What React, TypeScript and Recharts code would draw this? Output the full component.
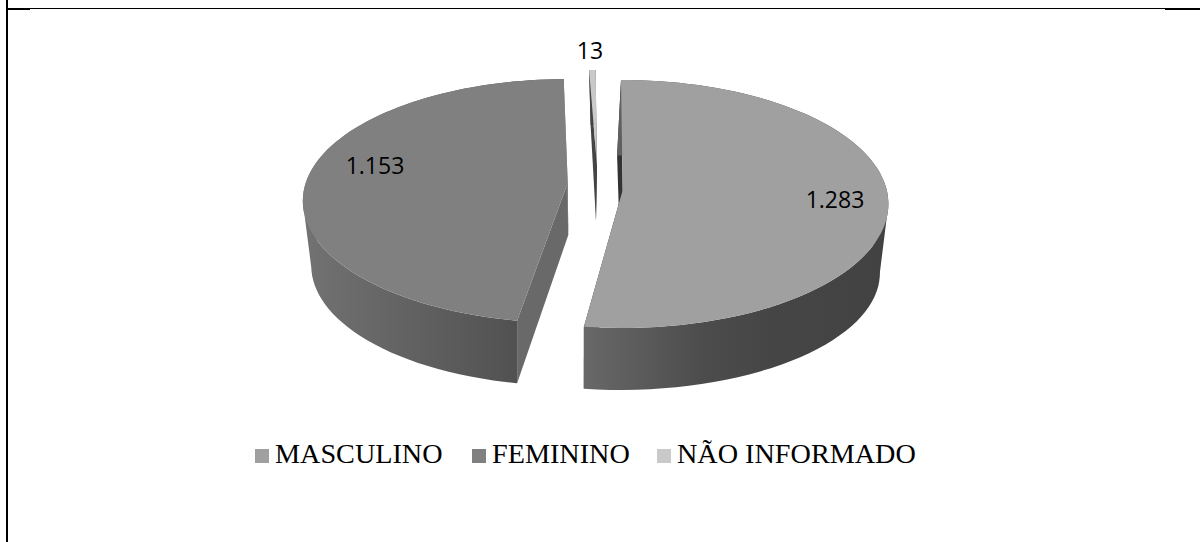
import React from 'react';
import { PieChart, Pie, Legend } from 'recharts';

const categories = ['MASCULINO', 'FEMININO', 'NÃO INFORMADO'];
const counts = [1283, 1153, 13];
const colors = ['#a0a0a0', '#808080', '#c9c9c9'];

const tableData = categories.map((name, i) => ({ name, value: counts[i], fill: colors[i] }));

// hand fitted perspective of each exploded slice: top plane and bottom plane
type Plane = { x: number; y: number; a: number; b: number; p: number };
const sliceStyles = [
  {
    top: { x: 622.7, y: 190, a: 122.4, b: 264, p: -0.113 },
    bottom: { x: 620, y: 247, a: 111.5, b: 253.6, p: -0.22 },
    topRot: [0, -0.7],
    bottomRot: [-0.4, -1.8],
    startWall: '#333333',
    endWall: '#333333',
    rim: [[0, '#686868'], [0.4, '#4c4c4c'], [0.6, '#464646'], [1, '#424242']],
    rimRange: [584, 885],
    label: { x: 835, y: 208 },
  },
  {
    top: { x: 567.7, y: 183, a: 119.3, b: 262, p: -0.1475 },
    bottom: { x: 568.3, y: 235, a: 113, b: 249, p: -0.25 },
    topRot: [1.3, 1.3],
    bottomRot: [0.7, 1.3],
    startWall: '#696969',
    endWall: '#808080',
    rim: [[0, '#727272'], [1, '#515151']],
    rimRange: [305, 518],
    label: { x: 375, y: 174 },
  },
  {
    top: { x: 597, y: 166, a: 107.5, b: 220, p: -0.12 },
    bottom: { x: 596, y: 221, a: 107.5, b: 150, p: -0.12 },
    topRot: [0, 0],
    bottomRot: [0, 0],
    startWall: '#444444',
    endWall: '#444444',
    rim: [[0, '#444444'], [1, '#444444']],
    rimRange: [585, 600],
    label: { x: 590, y: 59 },
  },
];

const project = (g: Plane, deg: number) => {
  const r = (deg * Math.PI) / 180;
  const u = Math.cos(r);
  const v = -Math.sin(r);
  const d = 1 + g.p * v;
  return [g.x + (g.b * u) / d, g.y + (g.a * v) / d];
};

const arc = (g: Plane, from: number, to: number) => {
  const pts = [];
  for (let i = 0; i <= 80; i++) pts.push(project(g, from + ((to - from) * i) / 80));
  return pts;
};

const toPath = (pts: number[][]) =>
  'M' + pts.map((p) => `${p[0].toFixed(1)},${p[1].toFixed(1)}`).join('L') + 'Z';

// quads all wound the same way, so one nonzero path fills their union with no seams
const wound = (q: number[][]) => {
  let area = 0;
  q.forEach((p, i) => {
    const n = q[(i + 1) % q.length];
    area += p[0] * n[1] - n[0] * p[1];
  });
  return area < 0 ? [...q].reverse() : q;
};

function Slice3D(props: any) {
  const { startAngle, endAngle, index, fill } = props;
  const s = sliceStyles[index];
  const id = `rim-${index}`;
  const topArc = arc(s.top, startAngle - s.topRot[0], endAngle - s.topRot[1]);
  const botArc = arc(s.bottom, startAngle - s.bottomRot[0], endAngle - s.bottomRot[1]);
  const topApex = [s.top.x, s.top.y];
  const botApex = [s.bottom.x, s.bottom.y];
  const rimPath = topArc
    .slice(1)
    .map((p, i) => toPath(wound([topArc[i], p, botArc[i + 1], botArc[i]])))
    .join('');
  return (
    <g>
      <defs>
        <linearGradient id={id} gradientUnits="userSpaceOnUse" x1={s.rimRange[0]} x2={s.rimRange[1]} y1="0" y2="0">
          {s.rim.map((st, i) => (
            <stop key={i} offset={st[0]} stopColor={st[1] as string} />
          ))}
        </linearGradient>
      </defs>
      <path d={toPath([topArc[0], topApex, botApex, botArc[0]])} fill={s.startWall} />
      <path d={toPath([topArc[80], topApex, botApex, botArc[80]])} fill={s.endWall} />
      <path d={rimPath} fill={`url(#${id})`} fillRule="nonzero" />
      <path d={toPath([topApex, ...topArc])} fill={fill} />
    </g>
  );
}

function renderValue(props: any) {
  const pos = sliceStyles[props.index].label;
  return (
    <text x={pos.x} y={pos.y} textAnchor="middle" fontFamily="Open Sans" fontSize={23} fill="#000">
      {props.value.toLocaleString('pt-BR')}
    </text>
  );
}

const legendLeft = [255, 472, 657];

function LegendRow({ payload }: any) {
  return (
    <div style={{ position: 'relative', height: 40, fontFamily: '"Liberation Serif"', fontSize: 28.2, color: '#000' }}>
      {(payload || []).map((item: any, i: number) => (
        <div key={item.value} style={{ position: 'absolute', left: legendLeft[i], top: 0, whiteSpace: 'nowrap', lineHeight: '32px' }}>
          <span style={{ display: 'inline-block', width: 14, height: 14, background: item.color, marginRight: 6 }} />
          {item.value}
        </div>
      ))}
    </div>
  );
}

export default function App() {
  return (
    <div style={{ position: 'absolute', left: 0, top: 0, width: 1200, height: 542, background: '#fff', overflow: 'hidden' }}>
      <div style={{ position: 'absolute', left: 6, top: 0, width: 2, height: 542, background: '#000' }} />
      <div style={{ position: 'absolute', left: 6, top: 8, width: 1194, height: 1, background: '#000' }} />
      <div style={{ position: 'absolute', left: 6, top: 8, width: 24, height: 2, background: '#000' }} />
      <div style={{ position: 'absolute', left: 1165, top: 8, width: 35, height: 2, background: '#000' }} />
      <PieChart width={1200} height={542} margin={{ top: 0, right: 0, bottom: 0, left: 0 }}>
        <Pie
          data={tableData}
          dataKey="value"
          nameKey="name"
          cx={600}
          cy={200}
          outerRadius={120}
          startAngle={90.4}
          endAngle={-269.6}
          stroke="none"
          shape={Slice3D}
          label={renderValue}
          labelLine={false}
          isAnimationActive={false}
        />
        <Legend
          content={<LegendRow />}
          itemSorter={null}
          wrapperStyle={{ position: 'absolute', left: 0, top: 438, width: 1200 }}
        />
      </PieChart>
    </div>
  );
}
